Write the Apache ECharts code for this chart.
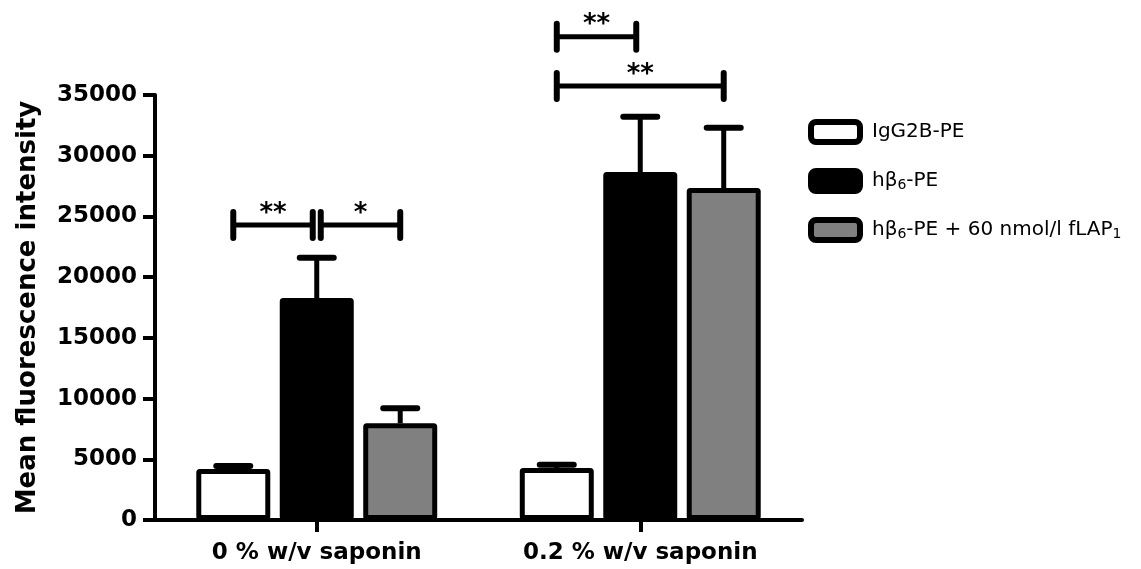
<!DOCTYPE html>
<html>
<head>
<meta charset="utf-8">
<script src="https://cdn.jsdelivr.net/npm/echarts@6/dist/echarts.min.js"></script>
<style>html,body{margin:0;padding:0;background:#fff}#c{width:1141px;height:569px}</style>
</head>
<body>
<div id="c"></div>
<script>
// ---- data ----
const categories = ['0 % w/v saponin', '0.2 % w/v saponin'];
const seriesNames = ['IgG2B-PE', 'hβ6-PE', 'hβ6-PE + 60 nmol/l fLAP1'];
const igMean = [4200, 4280];
const igUpper = [4450, 4550];
const hbMean = [18280, 28660];
const hbUpper = [21600, 33200];
const hbLapMean = [7960, 27340];
const hbLapUpper = [9200, 32300];
const yTicks = [0, 5000, 10000, 15000, 20000, 25000, 30000, 35000];
// significance brackets
const brGroup = [0, 0, 1, 1];
const brFrom = [0, 1, 0, 0];
const brTo = [1, 2, 1, 2];
const brLevel = [24300, 24300, 39800, 35750];
const brLabel = ['**', '*', '**', '**'];

// ---- style ----
const BAR_W = 74;
const BAR_GAP = 0.128;
const STEP = BAR_W * (1 + BAR_GAP);
const colors = ['#ffffff', '#000000', '#808080'];
const means = [igMean, hbMean, hbLapMean];
const uppers = [igUpper, hbUpper, hbLapUpper];

const errData = [];
for (let s = 0; s < 3; s++) for (let g = 0; g < categories.length; g++) errData.push([g, s, means[s][g], uppers[s][g]]);
const brData = brGroup.map((g, i) => [g, brFrom[i], brTo[i], brLevel[i]]);

const chart = echarts.init(document.getElementById('c'), null, {renderer: 'canvas'});
const boldFont = 'DejaVu Sans';

const barSeries = seriesNames.map((n, s) => ({
  name: n, type: 'bar', data: means[s], barWidth: BAR_W, barGap: (BAR_GAP * 100) + '%',
  itemStyle: {color: colors[s], borderColor: '#000', borderWidth: 5, borderRadius: 1},
  z: 3
}));

chart.setOption({
  animation: false,
  backgroundColor: '#fff',
  grid: {left: 155, right: 339, top: 95, bottom: 49, containLabel: false},
  legend: {
    left: 808, top: 119, padding: 0, orient: 'vertical', itemGap: 23, itemWidth: 49, itemHeight: 20,
    selectedMode: false, icon: 'roundRect',
    itemStyle: {borderColor: '#000', borderWidth: 6},
    data: seriesNames,
    formatter: function (name) {
      if (name === seriesNames[1]) return 'hβ{sub|6}-PE';
      if (name === seriesNames[2]) return 'hβ{sub|6}-PE + 60 nmol/l fLAP{sub|1}';
      return name;
    },
    textStyle: {
      fontFamily: 'DejaVu Sans', fontSize: 20, color: '#000', padding: [0, 0, 0, 7],
      rich: {sub: {fontFamily: 'DejaVu Sans', fontSize: 14, color: '#000', verticalAlign: 'bottom', padding: [9, 0, 0, 0]}}
    }
  },
  xAxis: {
    type: 'category', data: categories,
    axisLine: {show: true, lineStyle: {color: '#000', width: 4}},
    axisTick: {show: true, alignWithLabel: true, length: 12, lineStyle: {color: '#000', width: 4}},
    axisLabel: {margin: 22, color: '#000', fontFamily: boldFont, fontWeight: 'bold', fontSize: 23}
  },
  yAxis: {
    type: 'value', min: yTicks[0], max: yTicks[yTicks.length - 1], interval: yTicks[1] - yTicks[0],
    name: 'Mean fluorescence intensity', nameLocation: 'middle', nameGap: 114,
    nameTextStyle: {color: '#000', fontFamily: boldFont, fontWeight: 'bold', fontSize: 26},
    axisLine: {show: true, lineStyle: {color: '#000', width: 4}},
    axisTick: {show: true, length: 12, lineStyle: {color: '#000', width: 4}},
    splitLine: {show: false},
    axisLabel: {margin: 18, color: '#000', fontFamily: boldFont, fontWeight: 'bold', fontSize: 23,
      formatter: function (v) { return String(v); }}
  },
  series: barSeries.concat([
    {
      type: 'custom', name: 'err', data: errData, clip: false, z: 4,
      encode: {x: 0, y: 3},
      renderItem: function (params, api) {
        const g = api.value(0), s = api.value(1), m = api.value(2), u = api.value(3);
        const p0 = api.coord([g, m]);
        const p1 = api.coord([g, u]);
        const x = p0[0] + (s - 1) * STEP;
        return {type: 'group', children: [
          {type: 'line', shape: {x1: x, y1: p0[1], x2: x, y2: p1[1]}, style: {stroke: '#000', lineWidth: 5}},
          {type: 'line', shape: {x1: x - 17, y1: p1[1], x2: x + 17, y2: p1[1]}, style: {stroke: '#000', lineWidth: 6, lineCap: 'round'}}
        ]};
      }
    },
    {
      type: 'custom', name: 'sig', data: brData, clip: false, z: 4,
      encode: {x: 0, y: 3},
      renderItem: function (params, api) {
        const i = params.dataIndex;
        const g = api.value(0), f = api.value(1), t = api.value(2), lv = api.value(3);
        const p = api.coord([g, lv]);
        let xa = p[0] + (f - 1) * STEP, xb = p[0] + (t - 1) * STEP;
        if (f === 1) xa += 4;
        if (t === 1) xb -= 4;
        const y = p[1];
        return {type: 'group', children: [
          {type: 'line', shape: {x1: xa, y1: y, x2: xb, y2: y}, style: {stroke: '#000', lineWidth: 5}},
          {type: 'line', shape: {x1: xa, y1: y - 13, x2: xa, y2: y + 13}, style: {stroke: '#000', lineWidth: 6, lineCap: 'round'}},
          {type: 'line', shape: {x1: xb, y1: y - 13, x2: xb, y2: y + 13}, style: {stroke: '#000', lineWidth: 6, lineCap: 'round'}},
          {type: 'text', x: (xa + xb) / 2, y: y + 2, style: {text: brLabel[i], fill: '#000', font: 'bold 26px "DejaVu Sans"', align: 'center', verticalAlign: 'bottom'}}
        ]};
      }
    }
  ])
});
</script>
</body>
</html>
